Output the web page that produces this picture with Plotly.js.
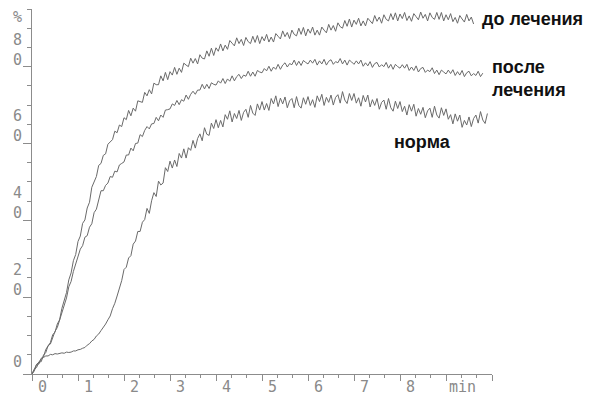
<!DOCTYPE html>
<html>
<head>
<meta charset="utf-8">
<script src="https://cdn.plot.ly/plotly-3.0.1.min.js"></script>
<style>html,body{margin:0;padding:0;background:#fff;}#chart{width:590px;height:398px;}</style>
</head>
<body>
<div id="chart"></div>
<script>
// time, minutes (sampling every 3 s)
const timeMin = [
0,0.05,0.1,0.15,0.2,0.25,0.3,0.35,0.4,0.45,0.5,0.55,0.6,0.65,0.7,0.75,0.8,0.85,0.9,0.95,
1,1.05,1.1,1.15,1.2,1.25,1.3,1.35,1.4,1.45,1.5,1.55,1.6,1.65,1.7,1.75,1.8,1.85,1.9,1.95,
2,2.05,2.1,2.15,2.2,2.25,2.3,2.35,2.4,2.45,2.5,2.55,2.6,2.65,2.7,2.75,2.8,2.85,2.9,2.95,
3,3.05,3.1,3.15,3.2,3.25,3.3,3.35,3.4,3.45,3.5,3.55,3.6,3.65,3.7,3.75,3.8,3.85,3.9,3.95,
4,4.05,4.1,4.15,4.2,4.25,4.3,4.35,4.4,4.45,4.5,4.55,4.6,4.65,4.7,4.75,4.8,4.85,4.9,4.95,
5,5.05,5.1,5.15,5.2,5.25,5.3,5.35,5.4,5.45,5.5,5.55,5.6,5.65,5.7,5.75,5.8,5.85,5.9,5.95,
6,6.05,6.1,6.15,6.2,6.25,6.3,6.35,6.4,6.45,6.5,6.55,6.6,6.65,6.7,6.75,6.8,6.85,6.9,6.95,
7,7.05,7.1,7.15,7.2,7.25,7.3,7.35,7.4,7.45,7.5,7.55,7.6,7.65,7.7,7.75,7.8,7.85,7.9,7.95,
8,8.05,8.1,8.15,8.2,8.25,8.3,8.35,8.4,8.45,8.5,8.55,8.6,8.65,8.7,8.75,8.8,8.85,8.9,8.95,
9,9.05,9.1,9.15,9.2,9.25,9.3,9.35,9.4,9.45,9.5,9.55,9.6,9.65,9.7,9.75,9.8,9.85,9.9];

// "до лечения" (before treatment), %
const beforeTreatment = [
0,0.8,2.5,2.6,4.1,4.5,6.4,7.2,8.2,10.2,10.9,13.0,14.1,17.1,18.9,21.2,24.5,26.3,29.5,31.1,
34.5,35.9,39.2,40.1,43.2,44.7,48.6,50.0,51.4,54.3,54.8,56.9,57.3,59.8,60.3,61.0,63.2,62.8,64.8,64.4,
66.7,66.2,68.6,67.2,69.2,68.4,71.1,70.9,70.7,73.3,72.4,74.0,72.9,75.7,75.3,75.3,77.6,76.3,78.5,76.6,
78.7,77.8,79.8,78.0,79.6,78.5,80.9,80.4,80.0,82.2,80.9,82.1,80.7,83.1,82.2,82.0,84.1,82.7,84.8,82.9,
84.9,84.0,85.9,84.1,85.6,84.5,86.8,86.1,85.4,87.5,86.0,87.1,85.5,87.6,86.5,86.0,87.9,86.3,88.1,86.0,
87.8,86.7,88.4,86.4,87.7,86.4,88.6,87.9,87.2,89.3,87.8,88.9,87.3,89.5,88.4,88.0,90.0,88.4,90.2,88.0,
89.8,88.7,90.3,88.2,89.5,88.2,90.3,89.5,88.8,91.0,89.5,90.7,89.2,91.4,90.4,90.0,92.0,90.5,92.4,90.3,
92.1,91.0,92.6,90.6,91.9,90.6,92.6,91.9,91.2,93.3,91.8,92.9,91.3,93.5,92.3,91.9,93.8,92.2,94.0,91.9,
93.7,92.5,94.1,92.0,93.2,91.8,93.8,93.0,92.2,94.2,92.6,93.6,91.9,94.0,92.8,92.3,94.1,92.3,94.1,91.9,
93.5,92.2,93.8,91.7,92.8,91.3,93.3,92.4,91.6,93.6,91.9,92.9,91.1];

// "после лечения" (after treatment), %
const afterTreatment = [
0,1.2,1.7,3.1,3.2,4.9,5.6,7.4,7.8,9.6,11.1,12.1,14.0,15.7,18.2,19.8,22.7,24.1,26.7,28.5,
30.2,32.5,33.4,35.6,36.0,38.2,39.1,42.0,42.9,45.6,47.7,47.7,49.1,49.7,51.4,51.2,52.8,52.6,54.4,54.8,
55.2,57.0,57.0,58.8,58.1,60.0,60.1,62.3,61.8,63.4,64.4,63.8,65.1,65.2,66.8,65.9,67.4,66.8,68.7,68.8,
69.0,70.3,69.9,71.2,70.1,71.4,71.0,72.6,71.5,72.8,73.6,72.8,73.9,73.9,75.4,74.2,75.4,74.3,75.8,75.4,
75.2,76.3,75.7,76.9,75.6,76.8,76.2,77.6,76.3,77.4,78.0,76.9,77.8,77.5,78.8,77.5,78.6,77.5,79.0,78.6,
78.4,79.5,78.9,80.1,78.8,79.9,79.3,80.6,79.3,80.4,81.0,79.9,80.8,80.5,81.7,80.3,81.4,80.3,81.6,81.1,
80.7,81.7,80.9,81.9,80.4,81.5,80.7,81.9,80.4,81.4,81.8,80.6,81.3,81.0,82.1,80.7,81.7,80.4,81.7,81.2,
80.6,81.5,80.7,81.7,80.1,81.0,80.2,81.3,79.8,80.8,81.1,79.9,80.5,80.0,81.1,79.6,80.6,79.3,80.6,80.0,
79.6,80.5,79.6,80.6,79.0,79.9,79.0,80.2,78.6,79.5,79.8,78.5,79.1,78.7,79.7,78.2,79.1,77.9,79.1,78.6,
78.1,79.1,78.2,79.2,77.7,78.7,77.8,79.0,77.4,78.4,78.8,77.6,78.2,77.7,78.8,77.4,78.3];

// "норма" (norm), %
const norm = [
0,1.3,2.5,3.1,3.9,4.3,4.7,4.7,5.1,5.0,5.3,5.2,5.4,5.5,5.4,5.7,5.6,5.7,6.0,6.0,
6.3,6.4,6.7,6.9,7.5,7.9,8.6,9.0,9.9,10.4,11.3,12.0,13.0,14.1,15.1,17.0,18.4,20.3,22.4,24.3,
27.2,27.8,30.2,30.8,33.8,34.6,37.1,37.1,39.5,40.2,43.1,41.8,45.1,47.2,46.2,50.2,49.2,49.7,53.7,52.7,
55.4,53.6,55.7,54.0,57.4,56.2,58.6,56.2,58.9,58.2,60.8,58.8,61.3,62.5,60.7,64.1,62.4,62.1,65.3,63.9,
66.2,64.1,66.0,64.3,67.5,66.3,68.5,65.6,67.8,66.5,68.6,66.0,68.1,68.9,66.8,69.9,67.9,67.3,70.3,68.7,
70.9,68.7,70.4,68.6,71.7,70.3,72.4,69.6,71.8,70.3,72.1,69.3,71.1,71.7,69.3,72.2,69.9,69.2,71.9,70.2,
72.2,69.9,71.4,69.4,72.4,70.9,72.8,69.9,72.0,70.7,72.6,70.0,72.0,72.7,70.5,73.5,71.3,70.4,73.0,71.2,
73.0,70.5,71.9,69.7,72.5,70.8,72.6,69.5,71.4,69.9,71.7,68.9,70.7,71.3,68.9,71.7,69.3,68.4,71.0,69.1,
70.9,68.3,69.7,67.4,70.1,68.4,70.2,67.1,69.1,67.6,69.4,66.7,68.5,69.2,66.8,69.7,67.4,66.6,69.3,67.3,
69.0,66.3,67.5,65.1,67.7,65.8,67.4,64.2,66.0,64.8,66.9,64.4,66.5,67.4,65.3,68.3,66.1,65.2,67.8];

const seriesNames = ['до лечения', 'после<br>лечения', 'норма'];
const seriesValues = [beforeTreatment, afterTreatment, norm];
const labelPos = [[9.74, 92.4], [9.96, 77.0], [7.83, 60.4]];

const xTickVals = [0,1,2,3,4,5,6,7,8];
const xTickText = ['0','1','2','3','4','5','6','7','8'];
const yTickVals = [0,20,40,60,80];
const yTickText = ['0','2<br>0','4<br>0','6<br>0','8<br>0'];

const lineColor = '#6a6a6a';
const axisColor = '#8c8c8c';
const tickFont = {family: 'DejaVu Sans Mono, monospace', size: 15, color: '#8a8a8a'};

const traces = seriesValues.map((vals) => ({
  type: 'scatter', mode: 'lines',
  x: timeMin.slice(0, vals.length), y: vals,
  line: {color: lineColor, width: 1},
  hoverinfo: 'skip', showlegend: false
}));

const annotations = [];
xTickVals.forEach((v, i) => annotations.push({
  xref: 'x', yref: 'paper', x: v + 0.22, y: 0, yanchor: 'top', xanchor: 'center',
  yshift: -2, text: xTickText[i], showarrow: false, font: tickFont
}));
annotations.push({xref: 'x', yref: 'paper', x: 9.35, y: 0, yanchor: 'top', xanchor: 'center',
  yshift: -2, text: 'min', showarrow: false, font: tickFont});
yTickVals.forEach((v, i) => annotations.push({
  xref: 'paper', yref: 'y', x: 0, y: v, xanchor: 'center', yanchor: 'bottom',
  xshift: -15, yshift: (v === 0 ? 1 : -4), text: yTickText[i], showarrow: false, font: tickFont
}));
annotations.push({xref: 'paper', yref: 'paper', x: 0, y: 1, xanchor: 'center', yanchor: 'middle',
  xshift: -15, yshift: -8, text: '%', showarrow: false, font: tickFont});
seriesNames.forEach((n, i) => annotations.push({
  xref: 'x', yref: 'y', x: labelPos[i][0], y: labelPos[i][1], xanchor: 'left', yanchor: 'middle',
  align: 'left', text: '<b>' + n + '</b>', showarrow: false,
  font: {family: 'Liberation Sans, Arial, sans-serif', size: 18, color: '#111'}
}));

const layout = {
  width: 590, height: 398,
  margin: {l: 32, r: 98, t: 9, b: 24, pad: 0},
  paper_bgcolor: '#ffffff', plot_bgcolor: '#ffffff',
  xaxis: {range: [0, 10], showgrid: false, zeroline: false, showline: true,
    linecolor: axisColor, linewidth: 1, ticks: 'outside', ticklen: 6, tickcolor: axisColor,
    tickmode: 'linear', tick0: 0, dtick: 1, showticklabels: false,
    minor: {ticks: 'outside', dtick: 1/3, tick0: 0, ticklen: 3, tickcolor: axisColor, showgrid: false}},
  yaxis: {range: [0, 95], showgrid: false, zeroline: false, showline: true,
    linecolor: axisColor, linewidth: 1, ticks: 'outside', ticklen: 8, tickcolor: axisColor,
    tickmode: 'linear', tick0: 0, dtick: 20, showticklabels: false,
    minor: {ticks: 'outside', dtick: 5, tick0: 0, ticklen: 4, tickcolor: axisColor, showgrid: false}},
  annotations: annotations
};

Plotly.newPlot('chart', traces, layout, {displayModeBar: false, staticPlot: true});
</script>
</body>
</html>
